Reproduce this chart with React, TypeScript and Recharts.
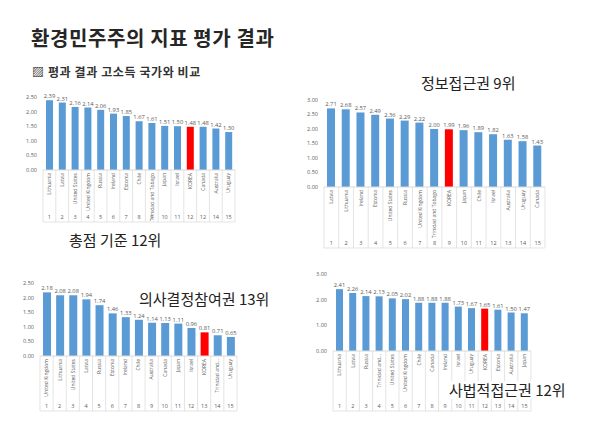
import React from 'react';
import { BarChart, Bar, XAxis, YAxis, LabelList, Cell } from 'recharts';

// 총점
const totalCountries = ['Lithuania', 'Latvia', 'United States', 'United Kingdom', 'Russia', 'Ireland', 'Estonia', 'Chile', 'Trinidad and Tobago', 'Japan', 'Israel', 'KOREA', 'Canada', 'Australia', 'Uruguay'];
const totalValues = [2.39, 2.31, 2.16, 2.14, 2.06, 1.93, 1.85, 1.67, 1.61, 1.51, 1.5, 1.48, 1.48, 1.42, 1.3];
const totalRanks = ['1', '2', '3', '4', '5', '6', '7', '8', '9', '10', '11', '12', '12', '14', '15'];

// 정보접근권
const infoCountries = ['Latvia', 'Lithuania', 'Ireland', 'Estonia', 'United States', 'Russia', 'United Kingdom', 'Trinidad and Tobago', 'KOREA', 'Japan', 'Chile', 'Israel', 'Australia', 'Uruguay', 'Canada'];
const infoValues = [2.71, 2.68, 2.57, 2.49, 2.36, 2.29, 2.22, 2.0, 1.99, 1.96, 1.89, 1.82, 1.63, 1.58, 1.43];

// 의사결정참여권
const partCountries = ['United Kingdom', 'Lithuania', 'United States', 'Latvia', 'Russia', 'Estonia', 'Ireland', 'Chile', 'Australia', 'Canada', 'Japan', 'Israel', 'KOREA', 'Trinidad and...', 'Uruguay'];
const partValues = [2.18, 2.08, 2.08, 1.94, 1.74, 1.46, 1.33, 1.24, 1.14, 1.13, 1.11, 0.96, 0.81, 0.71, 0.65];

// 사법적접근권
const justiceCountries = ['Lithuania', 'Latvia', 'Russia', 'Trinidad and...', 'United States', 'United Kingdom', 'Chile', 'Canada', 'Ireland', 'Israel', 'Uruguay', 'KOREA', 'Estonia', 'Australia', 'Japan'];
const justiceValues = [2.41, 2.26, 2.14, 2.13, 2.05, 2.02, 1.88, 1.88, 1.88, 1.73, 1.67, 1.65, 1.61, 1.5, 1.47];

const seqRanks = ['1', '2', '3', '4', '5', '6', '7', '8', '9', '10', '11', '12', '13', '14', '15'];

const ticks25 = [0, 0.5, 1, 1.5, 2, 2.5];
const ticks30 = [0, 0.5, 1, 1.5, 2, 2.5, 3];

const BLUE = '#5B9BD5';
const RED = '#FF0000';
const GRAY = '#595959';
const LINE = '#D9D9D9';
const FONT = '"Open Sans", "Liberation Sans", sans-serif';

const makeTick = (bandH: number, count: number) => (props: any) => {
  const { x, y, payload, index, width } = props;
  const step = payload && payload.offset ? payload.offset * 2 : width / count;
  const half = step / 2;
  const row = payload.value as string;
  const [name, rank] = row.split('|');
  return (
    <g>
      <line x1={x - half} y1={y} x2={x - half} y2={y + bandH - 1} stroke={LINE} strokeWidth={0.7} />
      {index === count - 1 && (
        <line x1={x + half} y1={y} x2={x + half} y2={y + bandH - 1} stroke={LINE} strokeWidth={0.7} />
      )}
      <line x1={x - half} y1={y + bandH - 1} x2={x + half} y2={y + bandH - 1} stroke={LINE} strokeWidth={0.7} />
      <text
        transform={`translate(${x + 1.8},${y + 3}) rotate(-90)`}
        textAnchor="end"
        fontSize={5}
        fill={GRAY}
        fontFamily={FONT}
      >
        {name}
      </text>
      <text x={x} y={y + bandH - 4} textAnchor="middle" fontSize={5.5} fill={GRAY} fontFamily={FONT}>
        {rank}
      </text>
    </g>
  );
};

interface PanelProps {
  countries: string[];
  values: number[];
  ranks: string[];
  ticks: number[];
  left: number;
  top: number;
  width: number;
  height: number;
  bandH: number;
  yWidth: number;
  right: number;
  barSize: number;
}

const Panel = ({ countries, values, ranks, ticks, left, top, width, height, bandH, yWidth, right, barSize }: PanelProps) => {
  const data = countries.map((c, i) => ({ key: `${c}|${ranks[i]}`, name: c, value: values[i] }));
  return (
    <div style={{ position: 'absolute', left, top }}>
      <BarChart width={width} height={height} data={data} margin={{ top: 7, right, left: 0, bottom: 0 }} barSize={barSize}>
        <XAxis
          dataKey="key"
          interval={0}
          height={bandH}
          axisLine={{ stroke: LINE }}
          tickLine={false}
          tickSize={0}
          tickMargin={0}
          tick={makeTick(bandH, countries.length)}
        />
        <YAxis
          domain={[0, ticks[ticks.length - 1]]}
          ticks={ticks}
          width={yWidth}
          axisLine={false}
          tickLine={false}
          tickSize={4}
          tickFormatter={(v: number) => v.toFixed(2)}
          tick={{ fontSize: 5.5, fill: GRAY, fontFamily: FONT }}
        />
        <Bar dataKey="value" isAnimationActive={false} barSize={barSize}>
          {data.map((d) => (
            <Cell key={d.key} fill={d.name === 'KOREA' ? RED : BLUE} />
          ))}
          <LabelList
            dataKey="value"
            position="top"
            offset={2}
            formatter={(v: any) => Number(v).toFixed(2)}
            style={{ fontSize: 5.8, fill: GRAY, fontFamily: FONT }}
          />
        </Bar>
      </BarChart>
    </div>
  );
};

const kr = '"Noto Sans CJK KR", sans-serif';

const Note = ({ left, top, size, children, bg }: { left: number; top: number; size: number; children: React.ReactNode; bg?: boolean }) => (
  <div
    style={{
      position: 'absolute',
      left,
      top,
      fontSize: size,
      lineHeight: 1.2,
      fontFamily: kr,
      color: '#222',
      whiteSpace: 'nowrap',
      background: bg ? '#fff' : 'transparent',
      zIndex: 2,
    }}
  >
    {children}
  </div>
);

const App = () => {
  return (
    <div style={{ position: 'absolute', left: 0, top: 0, width: 600, height: 423, background: '#fff', overflow: 'hidden' }}>
      <div
        style={{ position: 'absolute', left: 31, top: 26, fontSize: 20, fontWeight: 700, fontFamily: kr, color: '#262626', whiteSpace: 'nowrap', lineHeight: 1.2, letterSpacing: 0.6 }}
      >
        환경민주주의 지표 평가 결과
      </div>
      <div
        style={{ position: 'absolute', left: 32, top: 65, fontSize: 12, fontWeight: 700, fontFamily: kr, color: '#333', whiteSpace: 'nowrap', lineHeight: 1.2, letterSpacing: 0.6 }}
      >
        ▨ 평과 결과 고소득 국가와 비교
      </div>

      <Panel countries={totalCountries} values={totalValues} ranks={totalRanks} ticks={ticks25}
        left={20} top={90} width={220} height={133} bandH={53} yWidth={23} right={5} barSize={7} />
      <Panel countries={infoCountries} values={infoValues} ranks={seqRanks} ticks={ticks30}
        left={300} top={93} width={247} height={156} bandH={62} yWidth={24} right={2} barSize={8} />
      <Panel countries={partCountries} values={partValues} ranks={seqRanks} ticks={ticks25}
        left={17} top={276} width={223} height={136} bandH={56} yWidth={23} right={3} barSize={8} />
      <Panel countries={justiceCountries} values={justiceValues} ranks={seqRanks} ticks={ticks30}
        left={310} top={267} width={224} height={145} bandH={61} yWidth={23} right={3} barSize={7} />

      <Note left={421} top={74} size={15}>정보접근권 9위</Note>
      <Note left={69} top={231} size={15}>총점 기준 12위</Note>
      <Note left={139} top={290} size={15}>의사결정참여권 13위</Note>
      <Note left={449} top={381} size={15} bg>사법적접근권 12위</Note>
    </div>
  );
};

export default App;
